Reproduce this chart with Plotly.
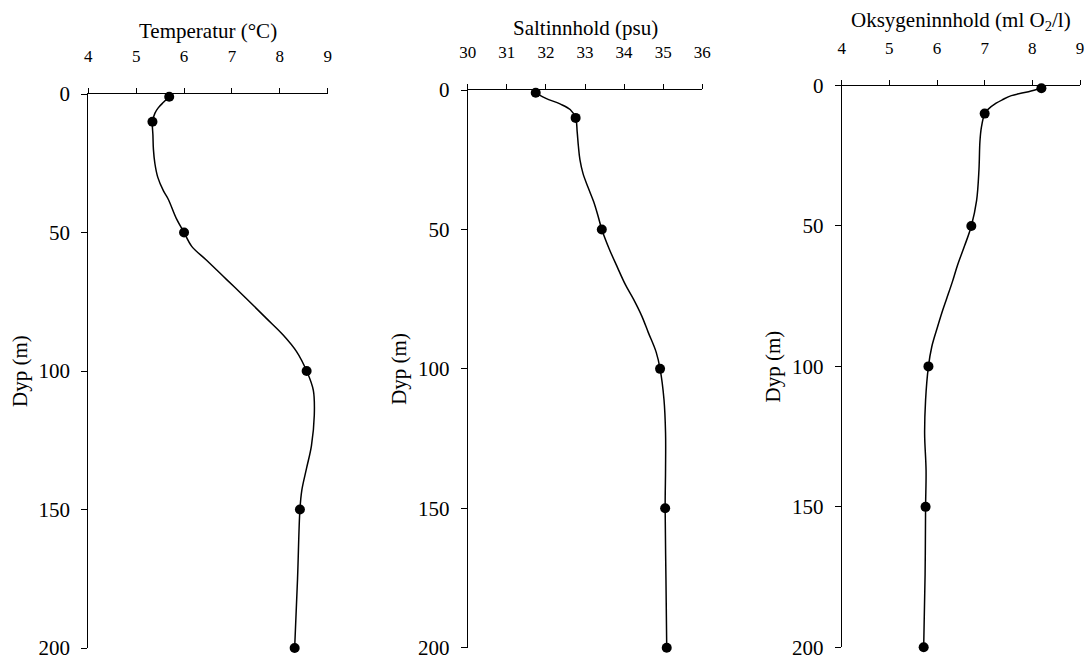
import plotly.graph_objects as go

W, H = 1085, 656
FONT = "Liberation Serif"

# Water-bottle sample depths (m) and measured values
bottle_depth = [1, 10, 50, 100, 150, 200]
bottle_temp = [5.69, 5.34, 6.0, 8.56, 8.42, 8.31]
bottle_sal = [31.74, 32.76, 33.43, 34.92, 35.05, 35.09]
bottle_oxy = [8.19, 7.0, 6.72, 5.82, 5.76, 5.72]

# Continuous CTD profiles
ctd_temp_depth = [1, 3, 5, 7, 10, 15, 20, 25, 30, 35, 38, 45, 50, 55, 60, 67, 74, 81,
                  87, 93, 100, 107, 116, 127, 135, 143, 150, 175, 200]
ctd_temp = [5.69, 5.57, 5.46, 5.39, 5.34, 5.35, 5.36, 5.39, 5.45, 5.57, 5.67, 5.84, 6.0,
            6.16, 6.47, 6.89, 7.31, 7.72, 8.07, 8.35, 8.56, 8.70, 8.72, 8.66, 8.56, 8.46,
            8.42, 8.37, 8.31]

ctd_sal_depth = [1, 3, 5, 7, 10, 15, 20, 25, 30, 35, 40, 45, 50, 57, 63, 70, 75, 81, 87,
                 94, 100, 111, 123, 136, 150, 175, 200]
ctd_sal = [31.74, 32.0, 32.36, 32.62, 32.76, 32.8, 32.83, 32.87, 32.95, 33.08, 33.22,
           33.33, 33.43, 33.62, 33.81, 34.04, 34.24, 34.45, 34.62, 34.82, 34.92, 35.02,
           35.06, 35.06, 35.05, 35.07, 35.09]

ctd_oxy_depth = [1, 2.2, 3.6, 5, 6.3, 8.5, 10, 15, 20, 30, 41, 50, 57, 64, 70, 76, 81, 86,
                 93, 100, 112, 124, 137, 150, 174, 200]
ctd_oxy = [8.19, 7.92, 7.56, 7.38, 7.24, 7.07, 7.0, 6.93, 6.9, 6.88, 6.83, 6.72, 6.58,
           6.43, 6.32, 6.2, 6.1, 6.01, 5.89, 5.82, 5.76, 5.74, 5.77, 5.76, 5.75, 5.72]

depth_ticks = [0, 50, 100, 150, 200]
temp_ticks = [4, 5, 6, 7, 8, 9]
sal_ticks = [30, 31, 32, 33, 34, 35, 36]
oxy_ticks = [4, 5, 6, 7, 8, 9]

titles = ["Temperatur (°C)", "Saltinnhold (psu)", "Oksygeninnhold (ml O<sub>2</sub>/l)"]
depth_label = "Dyp (m)"


def px(x):
    return x / W


def py(y):
    return 1 - y / H


# panel boxes in pixels: left, right, top, bottom
boxes = [(88.3, 327.7, 94.0, 648.0), (467.7, 702.3, 90.0, 647.7), (841.7, 1080.0, 85.5, 647.3)]
xranges = [[4, 9], [30, 36], [4, 9]]
xtickvals = [temp_ticks, sal_ticks, oxy_ticks]
title_pos = [(208, 31), (585, 28), (961, 21)]
ylabel_x = [20, 399, 773]

profiles = [(ctd_temp, ctd_temp_depth, bottle_temp),
            (ctd_sal, ctd_sal_depth, bottle_sal),
            (ctd_oxy, ctd_oxy_depth, bottle_oxy)]

fig = go.Figure()
annotations = []
for i, (vals, dep, bvals) in enumerate(profiles):
    n = "" if i == 0 else str(i + 1)
    fig.add_trace(go.Scatter(x=vals, y=dep, mode="lines", xaxis="x" + n, yaxis="y" + n,
                             line=dict(color="black", width=1.5, shape="spline", smoothing=1.0),
                             showlegend=False, hoverinfo="skip", cliponaxis=False))
    fig.add_trace(go.Scatter(x=bvals, y=bottle_depth, mode="markers", xaxis="x" + n,
                             yaxis="y" + n, marker=dict(color="black", size=10),
                             showlegend=False, cliponaxis=False))
    l, r, t, b = boxes[i]
    common = dict(showline=True, linecolor="black", linewidth=1, showgrid=False,
                  zeroline=False, ticks="outside", tickcolor="black", tickwidth=1,
                  ticklabeloverflow="allow", automargin=False)
    fig.layout["xaxis" + n] = dict(common, domain=[px(l), px(r)], range=xranges[i],
                                   side="top", anchor="y" + n, tickvals=xtickvals[i],
                                   ticklen=5, ticklabelstandoff=19,
                                   tickfont=dict(family=FONT, color="black", size=17))
    fig.layout["yaxis" + n] = dict(common, domain=[py(b), py(t)], range=[200, 0],
                                   anchor="x" + n, tickvals=depth_ticks, ticklen=6,
                                   ticklabelstandoff=7,
                                   tickfont=dict(family=FONT, color="black", size=21))
    tx, ty = title_pos[i]
    annotations.append(dict(text=titles[i], x=px(tx), y=py(ty), xref="paper", yref="paper",
                            showarrow=False, xanchor="center", yanchor="middle",
                            font=dict(family=FONT, size=21, color="black")))
    annotations.append(dict(text=depth_label, x=px(ylabel_x[i]), y=py((t + b) / 2),
                            xref="paper", yref="paper", showarrow=False, textangle=-90,
                            xanchor="center", yanchor="middle",
                            font=dict(family=FONT, size=21, color="black")))

fig.update_layout(template="none", width=W, height=H,
                  margin=dict(l=0, r=0, t=0, b=0, autoexpand=False),
                  paper_bgcolor="white", plot_bgcolor="white",
                  annotations=annotations)

fig.write_html("out.html")
